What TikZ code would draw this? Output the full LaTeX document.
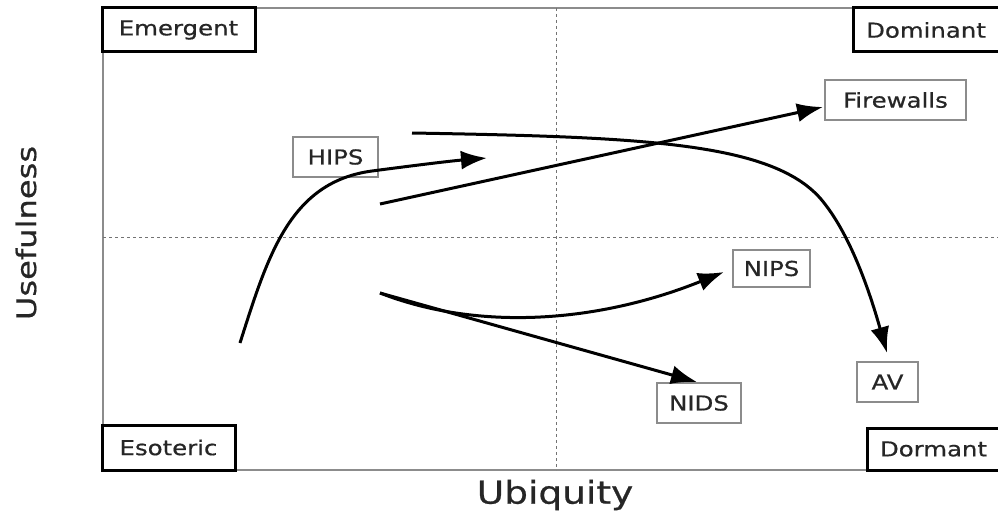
\documentclass[tikz,border=0pt]{standalone}
\usepackage{fontspec}
\setmainfont[FakeStretch=1.19,FakeBold=0.6]{DejaVu Sans}
\usetikzlibrary{arrows.meta}
\begin{document}
\begin{tikzpicture}[x=1pt,y=-1pt,
  frameline/.style={draw=black!45,line width=1.5pt},
  midline/.style={draw=black!55,line width=1pt,dash pattern=on 3pt off 3pt},
  cornerbox/.style={draw=black,line width=3pt,fill=white,inner sep=0pt,font=\fontsize{20.5}{24}\selectfont,text=black!85},
  itembox/.style={draw=black!45,line width=1.5pt,fill=white,inner sep=0pt,font=\fontsize{20.5}{24}\selectfont,text=black!85},
  axislabel/.style={font=\fontsize{31.5}{36}\selectfont,text=black!85,inner sep=0pt},
  flow/.style={draw=black,line width=3pt,-{Latex[length=26pt,width=19pt]}}
]
\useasboundingbox (0,0) rectangle (998,516);
% frame
\draw[frameline] (103,470) -- (103,8) -- (998,8);
\draw[frameline] (103,470) -- (998,470);
% quadrant lines
\draw[midline] (556,8) -- (556,470);
\draw[midline] (103,237) -- (998,237);
% corner boxes
\node[cornerbox,minimum width=153pt,minimum height=44pt] (emergent) at (178.5,30) {Emergent};
\node[cornerbox,minimum width=146pt,minimum height=44pt] (dominant) at (926,30) {Dominant};
\node[cornerbox,minimum width=133pt,minimum height=45pt] (esoteric) at (168.5,447.5) {Esoteric};
\node[cornerbox,minimum width=133pt,minimum height=42pt] (dormant) at (933.5,449) {Dormant};
% item boxes
\node[itembox,minimum width=85pt,minimum height=40pt] (hips) at (335.5,157) {HIPS};
\node[itembox,minimum width=141pt,minimum height=40pt] (fw) at (895.5,100) {Firewalls};
\node[itembox,minimum width=77pt,minimum height=37pt] (nips) at (771.5,268.5) {NIPS};
\node[itembox,minimum width=84pt,minimum height=40pt] (nids) at (699,403) {NIDS};
\node[itembox,minimum width=61pt,minimum height=40pt] (av) at (887.5,382) {AV};
% axis labels
\node[axislabel] (ubiq) at (555,495) {Ubiquity};
\node[axislabel,rotate=90,font=\fontsize{27}{32}\selectfont] (usef) at (26,233) {Usefulness};
% connector end points
\coordinate (hipsS) at (240,343);
\coordinate (hipsM) at (372,171);
\coordinate (hipsE) at (487,158);
\coordinate (fwS) at (380,204);
\coordinate (fwE) at (823,107);
\coordinate (avS) at (412,133);
\coordinate (avM) at (820,198);
\coordinate (avE) at (887,353);
\coordinate (netS) at (380,293);
\coordinate (nipsE) at (724,272);
\coordinate (nidsE) at (697,382);
% connectors
\draw[flow] (hipsS) .. controls (268,255) and (290,182) .. (hipsM) .. controls (410,166) and (450,161) .. (hipsE);
\draw[flow] (fwS) -- (fwE);
\draw[flow] (avS) .. controls (640,137) and (770,142) .. (avM) .. controls (852,235) and (872,300) .. (avE);
\draw[flow] (netS) .. controls (480,332) and (600,322) .. (nipsE);
\draw[flow] (netS) -- (nidsE);
\end{tikzpicture}
\end{document}
